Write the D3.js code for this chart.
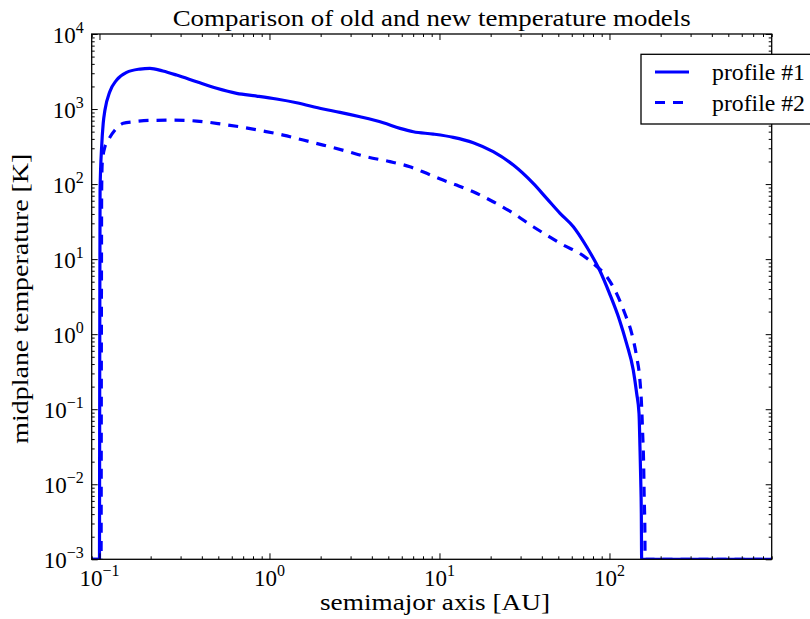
<!DOCTYPE html>
<html><head><meta charset="utf-8">
<script src="https://cdn.jsdelivr.net/npm/d3@7"></script>
<style>
body{margin:0;background:#fff}
svg{display:block}
text{font-family:"Liberation Serif","Times New Roman",serif;fill:#000}
</style>
</head><body>
<svg id="chart" width="810" height="619"></svg>
<script>
// ---------------- data ----------------
const chartTitle = "Comparison of old and new temperature models";
const xLabel = "semimajor axis [AU]";
const yLabel = "midplane temperature [K]";
const seriesNames = ["profile #1", "profile #2"];
const xDomain = [0.09, 900];
const yDomain = [1e-3, 1e4];
const xMajorExp = [-1, 0, 1, 2];
const yMajorExp = [-3, -2, -1, 0, 1, 2, 3, 4];

const profile1X = [0.09, 0.1, 0.1004, 0.1008, 0.103, 0.1052, 0.1077, 0.115, 0.126, 0.1445, 0.173, 0.198, 0.236, 0.284, 0.373, 0.489, 0.641, 0.841, 1.10, 1.445, 2.07, 2.60, 3.41, 4.67, 5.86, 7.02, 9.2, 12.05, 15.8, 20.7, 27.2, 35.6, 42.7, 51.2, 61.3, 73.4, 87.4, 100, 114.5, 126, 138, 144.5, 149.2, 151.1, 152.7, 153.9, 154.6, 900];
const profile1T = [1e-3, 1e-3, 1, 83, 315, 649, 970, 1700, 2430, 3080, 3410, 3490, 3210, 2840, 2310, 1890, 1620, 1490, 1360, 1213, 1000, 904, 789, 657, 553, 498, 464, 420, 356, 270, 179, 102, 64.6, 40.8, 27, 14.6, 7.16, 3.50, 1.55, 0.755, 0.333, 0.163, 0.088, 0.0316, 0.0114, 0.0041, 1e-3, 1e-3];

const profile2X = [0.09, 0.1022, 0.1026, 0.103, 0.1038, 0.1077, 0.1127, 0.1234, 0.138, 0.158, 0.198, 0.272, 0.373, 0.535, 0.701, 0.92, 1.205, 1.58, 2.07, 2.78, 3.73, 5.12, 6.70, 8.41, 10.5, 12.6, 15.8, 20.7, 27.2, 35.6, 42.7, 53.5, 67, 82.2, 96.4, 110, 123, 135, 144.5, 151, 154.6, 156.7, 158.8, 160, 161.5, 162, 900];
const profile2T = [1e-3, 1e-3, 1, 83, 191, 315, 386, 525, 645, 677, 705, 710, 692, 625, 570, 509, 450, 386, 331, 278, 231, 199, 170, 139, 113, 97, 79, 58.2, 40.8, 27, 20.9, 15.4, 11.9, 8.34, 5.83, 3.50, 1.90, 1.03, 0.50, 0.245, 0.108, 0.0478, 0.019, 0.0068, 0.00245, 1e-3, 1e-3];

// ---------------- layout ----------------
const L = 91.7, R = 771.7, T = 34, B = 559.3;
const svg = d3.select("#chart");
const x = d3.scaleLog().domain(xDomain).range([L, R]);
const y = d3.scaleLog().domain(yDomain).range([B, T]);

function minorTicks(dom) {
  const out = [];
  const k0 = Math.floor(Math.log10(dom[0])), k1 = Math.ceil(Math.log10(dom[1]));
  for (let k = k0; k <= k1; k++) for (let m = 2; m <= 9; m++) {
    const v = m * Math.pow(10, k);
    if (v >= dom[0] * 0.999 && v <= dom[1] * 1.001) out.push(v);
  }
  return out;
}
const xMajor = xMajorExp.map(e => Math.pow(10, e));
const yMajor = yMajorExp.map(e => Math.pow(10, e));
const xMinor = minorTicks(xDomain), yMinor = minorTicks(yDomain);

svg.append("defs").append("clipPath").attr("id", "clip")
  .append("rect").attr("x", L).attr("y", T).attr("width", R - L).attr("height", B - T);

// lines
const line = d3.line().x(d => x(d[0])).y(d => y(d[1])).curve(d3.curveMonotoneX);
const g = svg.append("g").attr("clip-path", "url(#clip)");
g.append("path").datum(profile1X.map((v, i) => [v, profile1T[i]]))
  .attr("d", line).attr("fill", "none").attr("stroke", "#0000ff").attr("stroke-width", 3.2)
  .attr("stroke-linejoin", "round");
g.append("path").datum(profile2X.map((v, i) => [v, profile2T[i]]))
  .attr("d", line).attr("fill", "none").attr("stroke", "#0000ff").attr("stroke-width", 3.2)
  .attr("stroke-dasharray", "10,8");

// axes (inside ticks on all four sides)
function drawAxis(axisFn, scale, vals, size, tr) {
  const a = svg.append("g").attr("transform", tr)
    .call(axisFn(scale).tickValues(vals).tickSize(-size).tickSizeOuter(0).tickFormat(""));
  a.select(".domain").remove();
  a.selectAll("line").attr("stroke", "#000").attr("stroke-width", 1);
}
drawAxis(d3.axisBottom, x, xMajor, 6, `translate(0,${B})`);
drawAxis(d3.axisBottom, x, xMinor, 3, `translate(0,${B})`);
drawAxis(d3.axisTop, x, xMajor, 6, `translate(0,${T})`);
drawAxis(d3.axisTop, x, xMinor, 3, `translate(0,${T})`);
drawAxis(d3.axisLeft, y, yMajor, 6, `translate(${L},0)`);
drawAxis(d3.axisLeft, y, yMinor, 3, `translate(${L},0)`);
drawAxis(d3.axisRight, y, yMajor, 6, `translate(${R},0)`);
drawAxis(d3.axisRight, y, yMinor, 3, `translate(${R},0)`);

// frame
svg.append("rect").attr("x", L).attr("y", T).attr("width", R - L).attr("height", B - T)
  .attr("fill", "none").attr("stroke", "#000").attr("stroke-width", 1.3);

// tick labels
const expStr = e => (e < 0 ? "\u2212" : "") + Math.abs(e);
xMajorExp.forEach(e => {
  const t = svg.append("text").attr("x", x(Math.pow(10, e))).attr("y", B + 27)
    .attr("text-anchor", "middle").attr("font-size", 23);
  t.append("tspan").text("10");
  t.append("tspan").attr("dy", -10).attr("font-size", 16).text(expStr(e));
});
yMajorExp.forEach(e => {
  const t = svg.append("text").attr("x", L - 8).attr("y", y(Math.pow(10, e)) + 9)
    .attr("text-anchor", "end").attr("font-size", 23);
  t.append("tspan").text("10");
  t.append("tspan").attr("dy", -10).attr("font-size", 16).text(expStr(e));
});

// titles
svg.append("text").attr("x", (L + R) / 2).attr("y", 26).attr("text-anchor", "middle")
  .attr("font-size", 24).attr("textLength", 518).attr("lengthAdjust", "spacingAndGlyphs").text(chartTitle);
svg.append("text").attr("x", 435).attr("y", 610).attr("text-anchor", "middle")
  .attr("font-size", 24).attr("textLength", 230).attr("lengthAdjust", "spacingAndGlyphs").text(xLabel);
svg.append("text").attr("transform", `translate(28,${(T + B) / 2 + 2}) rotate(-90)`).attr("text-anchor", "middle")
  .attr("font-size", 24).attr("textLength", 290).attr("lengthAdjust", "spacingAndGlyphs").text(yLabel);

// legend
const lg = svg.append("g");
lg.append("rect").attr("x", 641).attr("y", 54.3).attr("width", 200).attr("height", 69.7)
  .attr("fill", "#fff").attr("stroke", "#000").attr("stroke-width", 1.3);
const legY = [72, 102.5];
seriesNames.forEach((name, i) => {
  lg.append("line").attr("x1", 655).attr("x2", 689).attr("y1", legY[i]).attr("y2", legY[i])
    .attr("stroke", "#0000ff").attr("stroke-width", 3.2)
    .attr("stroke-dasharray", i === 1 ? "10,8" : null);
  lg.append("text").attr("x", 712).attr("y", legY[i] + 8).attr("font-size", 23)
    .attr("textLength", 93).attr("lengthAdjust", "spacingAndGlyphs").text(name);
});
</script>
</body></html>
